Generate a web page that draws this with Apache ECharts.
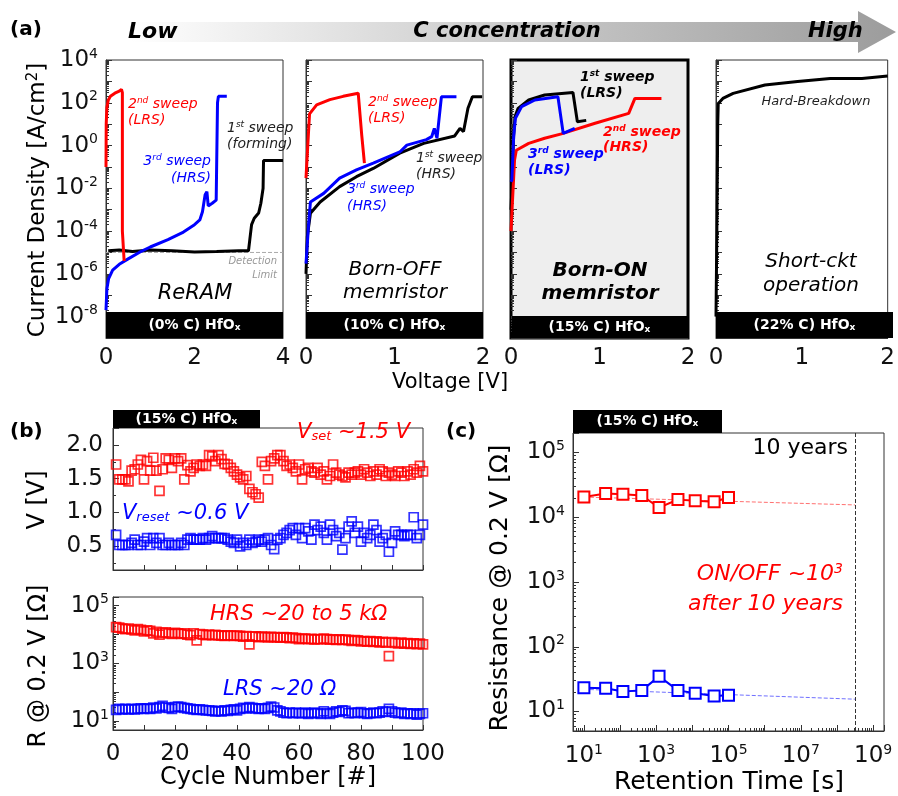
<!DOCTYPE html>
<html>
<head>
<meta charset="utf-8">
<script src="https://cdn.jsdelivr.net/npm/echarts@6/dist/echarts.min.js"></script>
<style>
html, body { margin: 0; padding: 0; background: #fff; }
#chart { width: 898px; height: 796px; }
</style>
</head>
<body>
<div id="chart"></div>
<script>
// ---- (a) J-V sweeps, pairs of [voltage V, current density A/cm2] ----
var reramForming = [[0.05,1.2e-5],[0.3,1.3e-5],[0.6,1.1e-5],[1.0,1.3e-5],[1.5,1.2e-5],[2.0,1.05e-5],[2.5,1.1e-5],[3.0,1.2e-5],[3.22,1.2e-5],[3.25,4e-5],[3.29,2e-4],[3.35,4e-4],[3.45,7e-4],[3.5,2e-3],[3.55,1e-2],[3.56,0.2],[4.0,0.2]];
var reramLRS = [[0,0.1],[0.005,10],[0.02,60],[0.05,130],[0.1,200],[0.2,280],[0.3,350],[0.35,420],[0.37,300],[0.37,1e-4],[0.40,1e-4],[0.41,4e-6]];
var reramHRS = [[0,2e-8],[0.02,2e-7],[0.06,6e-7],[0.15,1.5e-6],[0.3,2.8e-6],[0.5,5e-6],[0.75,1e-5],[1.0,1.8e-5],[1.4,4e-5],[1.75,9e-5],[2.0,2e-4],[2.12,3.3e-4],[2.18,8e-4],[2.24,5e-3],[2.28,7e-3],[2.31,1.5e-3],[2.4,2e-3],[2.49,2.8e-3],[2.52,100],[2.54,200],[2.73,200]];
var detectionLimit = [[0,1e-5],[4,1e-5]];

var bornOffFirst = [[0,1e-6],[0.015,5.5e-5],[0.05,6.8e-4],[0.16,2.3e-3],[0.38,0.012],[0.57,0.035],[0.76,0.085],[1.06,0.44],[1.33,1.26],[1.68,2.8],[1.74,6.3],[1.78,4.5],[1.83,55],[1.88,190],[1.99,190]];
var bornOffLRS = [[0,0.03],[0.02,1],[0.04,30],[0.12,80],[0.27,140],[0.42,200],[0.59,280],[0.63,3],[0.66,0.15]];
var bornOffHRS = [[0,3e-6],[0.03,2.3e-4],[0.05,2.3e-3],[0.2,5.8e-3],[0.38,0.03],[0.57,0.072],[0.76,0.15],[1.06,0.5],[1.14,1.05],[1.36,1.9],[1.42,2.6],[1.45,6.3],[1.48,2.2],[1.53,190],[1.70,190]];

var bornOnFirst = [[0,1e-3],[0.01,0.01],[0.03,3],[0.045,22],[0.08,55],[0.2,135],[0.38,230],[0.70,300],[0.72,250],[0.75,13],[0.85,15]];
var bornOnHRS = [[0,1e-4],[0.01,7e-4],[0.04,0.21],[0.06,0.6],[0.2,1.26],[0.38,2.2],[0.57,3.5],[0.95,11],[1.33,32],[1.40,160],[1.70,160]];
var bornOnLRS = [[0,0.02],[0.01,0.025],[0.03,2.6],[0.05,19],[0.12,66],[0.27,135],[0.53,190],[0.55,180],[0.59,3.7],[0.61,3.7],[0.72,6.3]];

var shortCkt = [[0,1e-8],[0.01,1e-4],[0.02,10],[0.026,93],[0.08,160],[0.2,275],[0.57,680],[0.95,980],[1.33,1380],[1.70,1380],[2.0,1800]];

// ---- (b) endurance, one value per cycle 1..100 ----
var setVoltage = [1.71,1.49,1.49,1.49,1.46,1.62,1.64,1.71,1.78,1.49, 1.76,1.62,1.81,1.62,1.32,1.64,1.80,1.78,1.66,1.80,
  1.76,1.80,1.49,1.70,1.61,1.66,1.71,1.69,1.71,1.69, 1.85,1.83,1.76,1.85,1.79,1.72,1.71,1.66,1.61,1.56,
  1.52,1.49,1.54,1.35,1.30,1.27,1.22,1.75,1.69,1.49, 1.76,1.80,1.85,1.85,1.76,1.69,1.71,1.66,1.61,1.71,
  1.49,1.64,1.66,1.61,1.59,1.66,1.56,1.61,1.49,1.54, 1.71,1.59,1.56,1.54,1.52,1.59,1.56,1.59,1.61,1.56,
  1.64,1.59,1.54,1.61,1.56,1.64,1.61,1.54,1.59,1.56, 1.54,1.61,1.59,1.54,1.61,1.56,1.64,1.59,1.69,1.61];
var resetVoltage = [0.67,0.52,0.52,0.52,0.52,0.55,0.60,0.52,0.52,0.57, 0.62,0.52,0.62,0.55,0.62,0.52,0.52,0.55,0.52,0.52,
  0.52,0.55,0.52,0.60,0.62,0.60,0.60,0.60,0.62,0.60, 0.62,0.65,0.62,0.62,0.62,0.62,0.60,0.57,0.55,0.60,
  0.50,0.55,0.52,0.60,0.55,0.57,0.60,0.57,0.60,0.62, 0.52,0.46,0.60,0.62,0.67,0.70,0.74,0.77,0.67,0.77,
  0.62,0.77,0.72,0.60,0.82,0.74,0.79,0.70,0.60,0.82, 0.74,0.65,0.70,0.45,0.62,0.79,0.87,0.70,0.79,0.57,
  0.70,0.62,0.67,0.82,0.74,0.57,0.62,0.67,0.42,0.55, 0.72,0.67,0.67,0.65,0.67,0.67,0.93,0.62,0.67,0.82];
var hrsCycle = [18000,17500,16000,15500,16000,15000,14000,15500,14500,13000, 14000,13500,11000,12500,10000,11500,12000,11000,10500,11500,
  11000,10500,11000,10000,9500,11000,6300,10500,10000,9500, 10000,9500,9800,9500,9200,9000,9500,9300,9000,9200,
  9000,8500,8800,4600,8500,8700,8200,8500,8300,8000, 8400,8200,8000,7800,8200,8000,7600,7800,7500,7000,
  7200,7300,6900,7100,6800,7000,6900,7300,7000,6700, 6900,6600,6800,6500,6700,6400,6000,6500,6300,5800,
  6000,5700,5900,5600,5800,5400,5600,5300,1800,5500, 5200,5000,5300,4900,5100,4800,5000,4700,4900,4600];
var lrsCycle = [25,27,26,27,26,27,26,27,28,27, 28,27,30,28,31,34,30,29,27,31,
  32,31,29,28,27,26,25,26,25,24, 24,23,22,23,22,24,23,25,26,24,
  27,29,28,31,29,28,27,28,27,29, 32,30,24,22,20,19,20,19,20,19,
  19,20,18,19,20,19,18,22,19,18, 20,22,21,24,23,19,20,19,20,21,
  19,18,19,20,19,20,22,21,27,22, 20,19,20,18,19,18,19,17,18,19];

// ---- (c) retention ----
var retTime = [10, 40, 120, 400, 1200, 4000, 12000, 40000, 100000];
var retHRS = [20600, 23300, 22700, 21700, 14100, 18800, 17900, 17300, 20200];
var retLRS = [23.3, 22.8, 20.4, 21.2, 34.9, 21.2, 19.2, 17.3, 17.9];
var hrsExtrap = [[10, 20500], [3.15e8, 15500]];
var lrsExtrap = [[10, 22], [3.15e8, 15.5]];
var tenYears = 3.15e8;

var FONT = "'DejaVu Sans', sans-serif";
var RED = '#ff0000', BLUE = '#0000ff', AX = '#333';

function logLabel(step, offset) {
  return function (v) {
    var e = Math.log10(v), r = Math.round(e);
    if (Math.abs(e - r) > 1e-6) return '';
    if ((((r - offset) % step) + step) % step !== 0) return '';
    return '{b|10}{s|' + r + '}';
  };
}
var logRich = {
  b: { fontSize: 23, fontFamily: FONT, color: '#111' },
  s: { fontSize: 14, fontFamily: FONT, color: '#111', padding: [0, 0, 12, 0] }
};

function aX(gi, max, interval) {
  return { gridIndex: gi, type: 'value', min: 0, max: max, interval: interval,
    axisLine: { onZero: false, lineStyle: { color: AX } }, axisTick: { show: false }, splitLine: { show: false },
    axisLabel: { fontSize: 23, color: '#111', margin: 9, fontFamily: FONT } };
}
function aY(gi, showLabel) {
  return { gridIndex: gi, type: 'log', logBase: 10, min: 1e-9, max: 1e4, interval: 1,
    axisLine: { onZero: false, lineStyle: { color: gi === 2 ? '#000' : AX } },
    axisTick: { inside: true, length: 6, lineStyle: { color: AX } },
    minorTick: { show: true, splitNumber: 9, length: 3, lineStyle: { color: AX } },
    splitLine: { show: false }, minorSplitLine: { show: false },
    axisLabel: { show: showLabel, formatter: logLabel(2, 0), rich: logRich, margin: 8 } };
}
function logY(gi, min, max, step, offset, margin) {
  return { gridIndex: gi, type: 'log', logBase: 10, min: min, max: max,
    axisLine: { onZero: false, lineStyle: { color: AX } },
    axisTick: { inside: true, length: 6, lineStyle: { color: AX } },
    minorTick: { show: true, splitNumber: 9, length: 3, lineStyle: { color: AX } },
    splitLine: { show: false },
    axisLabel: { formatter: logLabel(step, offset), rich: logRich, margin: margin } };
}

function line(xi, data, color, o) {
  o = o || {};
  return { type: 'line', xAxisIndex: xi, yAxisIndex: xi, data: data, symbol: 'none', showSymbol: false,
    lineStyle: { width: o.width || 3, color: color, type: o.type || 'solid' }, z: o.z || 3, silent: true };
}
function squares(xi, values, color) {
  return { type: 'scatter', xAxisIndex: xi, yAxisIndex: xi, symbol: 'rect', symbolSize: 9,
    data: values.map(function (v, i) { return [i + 1, v]; }),
    itemStyle: { color: 'rgba(0,0,0,0)', borderColor: color, borderWidth: 1.7 }, silent: true };
}
function retention(values, color) {
  return { type: 'line', xAxisIndex: 6, yAxisIndex: 6, symbol: 'rect', symbolSize: 11,
    data: values.map(function (v, i) { return [retTime[i], v]; }),
    lineStyle: { width: 2, color: color }, itemStyle: { color: '#fff', borderColor: color, borderWidth: 2 }, z: 4, silent: true };
}

function T(x, y, text, o) {
  o = o || {};
  var size = o.size || 14;
  var base = { fontFamily: FONT, fontSize: size, fontStyle: o.italic ? 'italic' : 'normal',
    fontWeight: o.bold ? 'bold' : 'normal', fill: o.color || '#000' };
  var small = Math.round(size * 0.64);
  var rich = {
    sup: Object.assign({}, base, { fontSize: small, padding: [0, 0, Math.round(size * 0.45), 0] }),
    sub: Object.assign({}, base, { fontSize: small, padding: [Math.round(size * 0.4), 0, 0, 0] })
  };
  return { type: 'text', x: x, y: y, z: 120, rotation: o.rotate || 0,
    style: Object.assign({ text: text, align: o.align || 'left', verticalAlign: 'middle',
      textAlign: o.align || 'left', textVerticalAlign: 'middle', rich: rich }, base) };
}
function box(x, y, w, h) {
  return { type: 'rect', z: 110, shape: { x: x, y: y, width: w, height: h }, style: { fill: '#000' } };
}
var UP = Math.PI / 2;

var graphics = [
  { type: 'polygon', z: 100, shape: { points: [[130, 22], [858, 22], [858, 11], [896, 32], [858, 53], [858, 42], [130, 42]] },
    style: { fill: new echarts.graphic.LinearGradient(0, 0, 1, 0, [{ offset: 0, color: '#ffffff' }, { offset: 0.45, color: '#cfcfcf' }, { offset: 1, color: '#9c9c9c' }]) } },
  T(10, 30, '(a)', { size: 20, bold: true }),
  T(128, 32, 'Low', { size: 22, bold: true, italic: true }),
  T(507, 32, 'C concentration', { size: 21, bold: true, italic: true, align: 'center' }),
  T(808, 32, 'High', { size: 21, bold: true, italic: true }),

  T(128, 104, '2{sup|nd} sweep', { size: 14, italic: true, color: RED }),
  T(128, 120, '(LRS)', { size: 14, italic: true, color: RED }),
  T(211, 161, '3{sup|rd} sweep', { size: 14, italic: true, color: BLUE, align: 'right' }),
  T(211, 178, '(HRS)', { size: 14, italic: true, color: BLUE, align: 'right' }),
  T(227, 128, '1{sup|st} sweep', { size: 14, italic: true, color: '#222' }),
  T(227, 144, '(forming)', { size: 14, italic: true, color: '#222' }),
  T(277, 261, 'Detection', { size: 10, italic: true, color: '#999', align: 'right' }),
  T(277, 275, 'Limit', { size: 10, italic: true, color: '#999', align: 'right' }),
  T(195, 294, 'ReRAM', { size: 21, italic: true, align: 'center' }),

  T(368, 102, '2{sup|nd} sweep', { size: 14, italic: true, color: RED }),
  T(368, 118, '(LRS)', { size: 14, italic: true, color: RED }),
  T(416, 158, '1{sup|st} sweep', { size: 14, italic: true, color: '#222' }),
  T(416, 174, '(HRS)', { size: 14, italic: true, color: '#222' }),
  T(347, 189, '3{sup|rd} sweep', { size: 14, italic: true, color: BLUE }),
  T(347, 206, '(HRS)', { size: 14, italic: true, color: BLUE }),
  T(395, 270, 'Born-OFF', { size: 20, italic: true, align: 'center' }),
  T(395, 293, 'memristor', { size: 20, italic: true, align: 'center' }),

  T(580, 77, '1{sup|st} sweep', { size: 14, bold: true, italic: true }),
  T(580, 93, '(LRS)', { size: 14, bold: true, italic: true }),
  T(603, 132, '2{sup|nd} sweep', { size: 14, bold: true, italic: true, color: RED }),
  T(603, 147, '(HRS)', { size: 14, bold: true, italic: true, color: RED }),
  T(528, 154, '3{sup|rd} sweep', { size: 14, bold: true, italic: true, color: BLUE }),
  T(528, 170, '(LRS)', { size: 14, bold: true, italic: true, color: BLUE }),
  T(600, 271, 'Born-ON', { size: 20, bold: true, italic: true, align: 'center' }),
  T(600, 294, 'memristor', { size: 20, bold: true, italic: true, align: 'center' }),

  T(816, 102, 'Hard-Breakdown', { size: 13, italic: true, color: '#222', align: 'center' }),
  T(811, 262, 'Short-ckt', { size: 20, italic: true, align: 'center' }),
  T(811, 286, 'operation', { size: 20, italic: true, align: 'center' }),

  box(106, 312, 177, 26), T(194.5, 325, '(0% C) HfO{sub|x}', { size: 14, bold: true, color: '#fff', align: 'center' }),
  box(306, 312, 177, 26), T(394.5, 325, '(10% C) HfO{sub|x}', { size: 14, bold: true, color: '#fff', align: 'center' }),
  box(512, 316, 175, 21), T(599.5, 327, '(15% C) HfO{sub|x}', { size: 14, bold: true, color: '#fff', align: 'center' }),
  box(716, 312, 177, 26), T(804.5, 325, '(22% C) HfO{sub|x}', { size: 14, bold: true, color: '#fff', align: 'center' }),

  T(450, 383, 'Voltage [V]', { size: 21, align: 'center' }),
  T(38, 200, 'Current Density [A/cm{sup|2}]', { size: 23, align: 'center', rotate: UP }),

  T(10, 432, '(b)', { size: 20, bold: true }),
  box(113, 410, 147, 18), T(186.5, 419, '(15% C) HfO{sub|x}', { size: 14, bold: true, color: '#fff', align: 'center' }),
  T(410, 433, 'V{sub|set} ~1.5 V', { size: 21, italic: true, color: RED, align: 'right' }),
  T(122, 514, 'V{sub|reset} ~0.6 V', { size: 21, italic: true, color: BLUE }),
  T(210, 615, 'HRS ~20 to 5 kΩ', { size: 21, italic: true, color: RED }),
  T(223, 690, 'LRS ~20 Ω', { size: 21, italic: true, color: BLUE }),
  T(38, 500, 'V [V]', { size: 24, align: 'center', rotate: UP }),
  T(39, 666, 'R @ 0.2 V [Ω]', { size: 24, align: 'center', rotate: UP }),
  T(268, 778, 'Cycle Number [#]', { size: 24, align: 'center' }),

  T(446, 432, '(c)', { size: 20, bold: true }),
  box(573, 410, 149, 23), T(647.5, 421, '(15% C) HfO{sub|x}', { size: 14, bold: true, color: '#fff', align: 'center' }),
  T(848, 448, '10 years', { size: 22, align: 'right' }),
  T(843, 574, 'ON/OFF ~10{sup|3}', { size: 22, italic: true, color: RED, align: 'right' }),
  T(843, 604, 'after 10 years', { size: 22, italic: true, color: RED, align: 'right' }),
  T(500, 588, 'Resistance @ 0.2 V [Ω]', { size: 25, align: 'center', rotate: UP }),
  T(729, 782, 'Retention Time [s]', { size: 25, align: 'center' })
];

var chart = echarts.init(document.getElementById('chart'), null, { renderer: 'canvas' });
chart.setOption({
  backgroundColor: '#fff',
  animation: false,
  textStyle: { fontFamily: FONT },
  grid: [
    { left: 106, top: 60, width: 177, height: 278, show: true, borderColor: AX, borderWidth: 1, backgroundColor: '#fff' },
    { left: 306, top: 60, width: 177, height: 278, show: true, borderColor: AX, borderWidth: 1, backgroundColor: '#fff' },
    { left: 511, top: 60, width: 177, height: 278, show: true, borderColor: '#000', borderWidth: 3, backgroundColor: '#eeeeee' },
    { left: 716, top: 60, width: 177, height: 278, show: true, borderColor: AX, borderWidth: 1, backgroundColor: '#fff' },
    { left: 113, top: 428, width: 310, height: 142, show: true, borderColor: AX, borderWidth: 1 },
    { left: 113, top: 597, width: 310, height: 133, show: true, borderColor: AX, borderWidth: 1 },
    { left: 573, top: 433, width: 311, height: 298, show: true, borderColor: AX, borderWidth: 1 }
  ],
  xAxis: [
    aX(0, 4, 2), aX(1, 2, 1), aX(2, 2, 1), aX(3, 2, 1),
    { gridIndex: 4, type: 'value', min: 0, max: 100, interval: 10,
      axisLine: { onZero: false, lineStyle: { color: AX } }, axisTick: { inside: true, length: 5, lineStyle: { color: AX } },
      axisLabel: { show: false }, splitLine: { show: false } },
    { gridIndex: 5, type: 'value', min: 0, max: 100, interval: 10,
      axisLine: { onZero: false, lineStyle: { color: AX } }, axisTick: { inside: true, length: 5, lineStyle: { color: AX } },
      axisLabel: { fontSize: 23, color: '#111', margin: 13, formatter: function (v) { return v % 20 === 0 ? String(v) : ''; } },
      splitLine: { show: false } },
    { gridIndex: 6, type: 'log', logBase: 10, min: 5, max: 2e9,
      axisLine: { onZero: false, lineStyle: { color: AX } },
      axisTick: { inside: true, length: 6, lineStyle: { color: AX } },
      minorTick: { show: true, splitNumber: 9, length: 3, lineStyle: { color: AX } },
      splitLine: { show: false },
      axisLabel: { formatter: logLabel(2, 1), rich: logRich, margin: 12 } }
  ],
  yAxis: [
    aY(0, true), aY(1, false), aY(2, false), aY(3, false),
    { gridIndex: 4, type: 'value', min: 0.15, max: 2.25,
      axisLine: { onZero: false, lineStyle: { color: AX } },
      axisTick: { inside: true, length: 6, lineStyle: { color: AX } },
      minorTick: { show: true, splitNumber: 2, length: 3, lineStyle: { color: AX } },
      splitLine: { show: false },
      axisLabel: { fontSize: 23, color: '#111', margin: 10,
        formatter: function (v) { return Math.abs(v * 2 - Math.round(v * 2)) < 1e-6 ? v.toFixed(1) : ''; } } },
    logY(5, 5, 2e5, 2, 1, 4),
    logY(6, 5, 2e5, 1, 0, 8)
  ],
  series: [
    line(0, detectionLimit, '#aaaaaa', { width: 1, type: 'dashed', z: 2 }),
    line(0, reramForming, '#000'),
    line(0, reramHRS, BLUE),
    line(0, reramLRS, RED),
    line(1, bornOffFirst, '#000'),
    line(1, bornOffLRS, RED),
    line(1, bornOffHRS, BLUE),
    line(2, bornOnFirst, '#000'),
    line(2, bornOnHRS, RED),
    line(2, bornOnLRS, BLUE),
    line(3, shortCkt, '#000'),
    squares(4, setVoltage, RED),
    squares(4, resetVoltage, BLUE),
    squares(5, hrsCycle, RED),
    squares(5, lrsCycle, BLUE),
    Object.assign(line(6, hrsExtrap, '#ff7070', { width: 1, type: 'dashed', z: 2 }), {
      markLine: { silent: true, symbol: ['none', 'none'], label: { show: false },
        lineStyle: { color: '#333', type: 'dashed', width: 1 }, data: [{ xAxis: tenYears }] } }),
    line(6, lrsExtrap, '#7070ff', { width: 1, type: 'dashed', z: 2 }),
    retention(retHRS, RED),
    retention(retLRS, BLUE)
  ],
  graphic: { elements: graphics }
});
</script>
</body>
</html>
